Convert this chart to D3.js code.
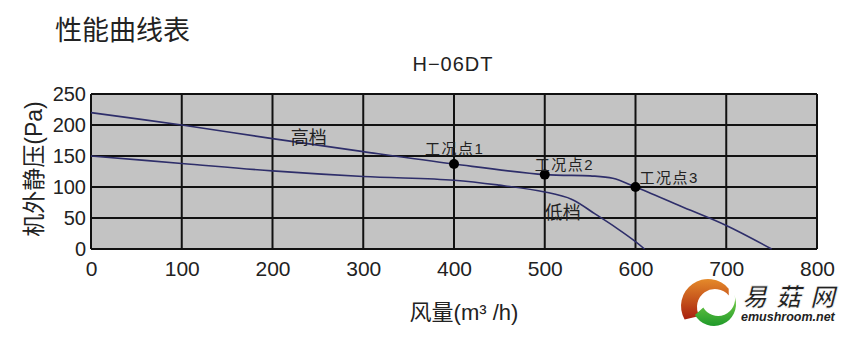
<!DOCTYPE html>
<html>
<head>
  <meta charset="utf-8">
  <title>性能曲线表</title>
  <style>
    body { margin: 0; background: #fff; }
    text { font-family: "Liberation Sans", "Noto Sans CJK SC", sans-serif; fill: #222; }
  </style>
</head>
<body>
  <script src="https://d3js.org/d3.v7.min.js"></script>
  <script>
    // air flow (m3/h) vs static pressure (Pa)
    var highFlow = [0, 100, 200, 300, 400, 500, 550, 575, 600, 650, 700, 750];
    var highPa   = [220, 200, 178, 157, 137, 120, 118, 114, 100, 69, 38, 0];
    var lowFlow  = [0, 100, 200, 300, 400, 450, 500, 530, 555, 580, 600, 610];
    var lowPa    = [150, 138, 126, 117, 111, 103, 92, 80, 57, 33, 12, 0];
    var pointFlow = [400, 500, 600];
    var pointPa   = [137, 120, 100];
    var pointNames = ["工况点1", "工况点2", "工况点3"];
    var xTicks = [0, 100, 200, 300, 400, 500, 600, 700, 800];
    var yTicks = [0, 50, 100, 150, 200, 250];

    var margin = {top: 94, right: 50, bottom: 91, left: 91},
        width = 867 - margin.left - margin.right,
        height = 340 - margin.top - margin.bottom;

    var svg = d3.select("body").append("svg")
        .attr("width", 867)
        .attr("height", 340);

    var chart = svg.append("g")
        .attr("transform", "translate(" + margin.left + "," + margin.top + ")");

    var x = d3.scaleLinear().domain([0, 800]).range([0, width]);
    var y = d3.scaleLinear().domain([0, 250]).range([height, 0]);

    chart.append("rect")
        .attr("width", width).attr("height", height)
        .attr("fill", "#c3c3c3");

    // grid
    chart.selectAll(".vgrid").data(xTicks).enter().append("line")
        .attr("x1", function(d){ return x(d); }).attr("x2", function(d){ return x(d); })
        .attr("y1", 0).attr("y2", height)
        .attr("stroke", "#111").attr("stroke-width", 2);
    chart.selectAll(".hgrid").data(yTicks).enter().append("line")
        .attr("x1", 0).attr("x2", width)
        .attr("y1", function(d){ return y(d); }).attr("y2", function(d){ return y(d); })
        .attr("stroke", "#111").attr("stroke-width", 2);

    var line = d3.line()
        .x(function(d){ return x(d[0]); })
        .y(function(d){ return y(d[1]); })
        .curve(d3.curveCatmullRom.alpha(0.5));

    chart.append("path")
        .datum(d3.zip(highFlow, highPa))
        .attr("d", line).attr("fill", "none")
        .attr("stroke", "#2e2e6a").attr("stroke-width", 1.6);
    chart.append("path")
        .datum(d3.zip(lowFlow, lowPa))
        .attr("d", line).attr("fill", "none")
        .attr("stroke", "#2e2e6a").attr("stroke-width", 1.6);

    // label offsets, px from each point
    var labelDx = [-29, -10, 4], labelDy = [-10, -5, -4];
    var pts = d3.zip(pointFlow, pointPa, pointNames);
    chart.selectAll(".pt").data(pts).enter().append("circle")
        .attr("cx", function(d){ return x(d[0]); })
        .attr("cy", function(d){ return y(d[1]); })
        .attr("r", 5).attr("fill", "#000");
    chart.selectAll(".ptlabel").data(pts).enter().append("text")
        .attr("x", function(d, i){ return x(d[0]) + labelDx[i]; })
        .attr("y", function(d, i){ return y(d[1]) + labelDy[i]; })
        .attr("font-size", 15).attr("letter-spacing", 1.5)
        .text(function(d){ return d[2]; });

    chart.append("text").attr("x", x(220)).attr("y", y(170))
        .attr("font-size", 18).text("高档");
    chart.append("text").attr("x", x(500)).attr("y", y(48))
        .attr("font-size", 18).text("低档");

    // axes
    var xAxis = svg.append("g")
        .attr("transform", "translate(" + margin.left + "," + (margin.top + height) + ")")
        .call(d3.axisBottom(x).tickValues(xTicks).tickSize(0).tickPadding(12));
    var yAxis = svg.append("g")
        .attr("transform", "translate(" + margin.left + "," + margin.top + ")")
        .call(d3.axisLeft(y).tickValues(yTicks).tickSize(0).tickPadding(5));
    [xAxis, yAxis].forEach(function(a){
      a.select(".domain").remove();
      a.selectAll("text").attr("font-family", null).attr("fill", "#222");
    });
    xAxis.selectAll("text").attr("font-size", 21);
    yAxis.selectAll("text").attr("font-size", 20);

    svg.append("text").attr("x", 55).attr("y", 40)
        .attr("font-size", 27).text("性能曲线表");
    svg.append("text").attr("x", 453).attr("y", 71)
        .attr("text-anchor", "middle").attr("font-size", 20).attr("letter-spacing", 1)
        .text("H−06DT");
    svg.append("text")
        .attr("transform", "translate(42,169) rotate(-90)")
        .attr("text-anchor", "middle").attr("font-size", 23).text("机外静压(Pa)");
    svg.append("text").attr("x", 464).attr("y", 320)
        .attr("text-anchor", "middle").attr("font-size", 22).text("风量(m³ /h)");

    // site logo
    var defs = svg.append("defs");
    var rg = defs.append("linearGradient").attr("id", "lgRed")
        .attr("x1", 0).attr("y1", 0).attr("x2", 0).attr("y2", 1);
    rg.append("stop").attr("offset", 0).attr("stop-color", "#e58a2a");
    rg.append("stop").attr("offset", 1).attr("stop-color", "#a8200f");
    var gg = defs.append("linearGradient").attr("id", "lgGreen")
        .attr("x1", 0).attr("y1", 0).attr("x2", 0).attr("y2", 1);
    gg.append("stop").attr("offset", 0).attr("stop-color", "#7fd04a");
    gg.append("stop").attr("offset", 1).attr("stop-color", "#1f9a2a");

    var deg = Math.PI / 180;
    var logo = svg.append("g").attr("transform", "translate(708,306)");
    var red = d3.path();
    red.arc(0, 0, 27, -40 * deg, -210 * deg, true);
    red.arc(7, 1, 18, -210 * deg, -40 * deg, false);
    red.closePath();
    logo.append("path").attr("d", red.toString()).attr("fill", "url(#lgRed)");
    var green = d3.path();
    green.arc(6, -2, 22, 150 * deg, -15 * deg, true);
    green.arc(10, -7, 17, -15 * deg, 150 * deg, false);
    green.closePath();
    logo.append("path").attr("d", green.toString()).attr("fill", "url(#lgGreen)");

    logo.append("text").attr("x", 34).attr("y", 0)
        .attr("font-size", 25).attr("font-weight", "bold").attr("font-style", "italic")
        .attr("fill", "#3a3a3a").attr("stroke", "#fff").attr("stroke-width", 0.8)
        .attr("letter-spacing", 9)
        .text("易菇网");
    logo.append("text").attr("x", 33).attr("y", 15)
        .attr("font-size", 12.5).attr("font-weight", "bold").attr("font-style", "italic")
        .attr("fill", "#222").text("emushroom.net");
  </script>
</body>
</html>
